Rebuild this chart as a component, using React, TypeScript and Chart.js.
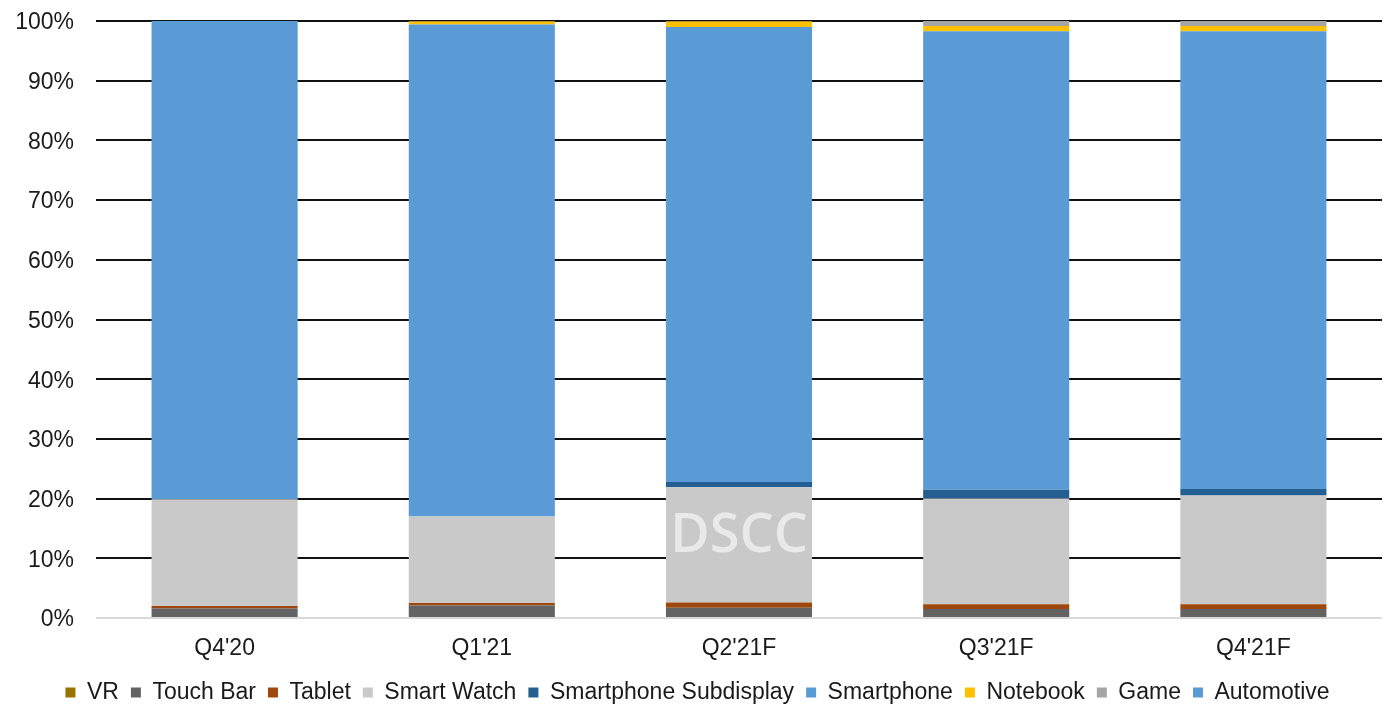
import React, { useEffect, useRef } from "react";
import { Chart, registerables } from "chart.js";

Chart.register(...registerables);

const categories = ["Q4'20", "Q1'21", "Q2'21F", "Q3'21F", "Q4'21F"];
const vr = [0, 0, 0, 0, 0];
const touchBar = [1.6, 2.1, 1.7, 1.5, 1.5];
const tablet = [0.4, 0.4, 0.9, 0.8, 0.8];
const smartWatch = [17.9, 14.5, 19.3, 17.7, 18.2];
const subdisplay = [0, 0, 0.9, 1.5, 1.1];
const smartphone = [80.1, 82.4, 76.2, 76.8, 76.7];
const notebook = [0, 0.5, 0.9, 0.85, 0.85];
const game = [0, 0.1, 0.1, 0.85, 0.85];
const automotive = [0, 0, 0, 0, 0];
const yTicks = [0, 10, 20, 30, 40, 50, 60, 70, 80, 90, 100];

const FONT = "'Liberation Sans', Arial, sans-serif";

const watermark = {
  id: "watermark",
  afterDatasetsDraw(chart: any) {
    const { ctx, scales } = chart;
    const x = scales.x.getPixelForValue(2);
    const y = scales.y.getPixelForValue(13.7);
    ctx.save();
    ctx.font = "600 54px 'Open Sans', sans-serif";
    ctx.fillStyle = "rgba(255,255,255,0.6)";
    ctx.textAlign = "center";
    ctx.textBaseline = "middle";
    ctx.fillText("DSCC", x, y);
    ctx.restore();
  },
};

export default function App() {
  const ref = useRef<HTMLCanvasElement>(null);
  useEffect(() => {
    if (!ref.current) return;
    const mk = (label: string, data: number[], color: string) => ({
      label,
      data,
      backgroundColor: color,
      borderWidth: 0,
      categoryPercentage: 1,
      barPercentage: 0.568,
    });
    const chart = new Chart(ref.current, {
      type: "bar",
      data: {
        labels: categories,
        datasets: [
          mk("VR", vr, "#997300"),
          mk("Touch Bar", touchBar, "#636363"),
          mk("Tablet", tablet, "#9E480E"),
          mk("Smart Watch", smartWatch, "#C9C9C9"),
          mk("Smartphone Subdisplay", subdisplay, "#255E91"),
          mk("Smartphone", smartphone, "#5B9BD5"),
          mk("Notebook", notebook, "#FFC000"),
          mk("Game", game, "#A5A5A5"),
          mk("Automotive", automotive, "#5B9BD5"),
        ],
      },
      options: {
        responsive: false,
        animation: false,
        layout: { padding: { top: 0, left: 13, right: 18, bottom: 2 } },
        plugins: {
          tooltip: { enabled: false },
          legend: {
            position: "bottom",
            labels: {
              boxWidth: 10,
              boxHeight: 10,
              padding: 12,
              color: "#1a1a1a",
              font: { family: FONT, size: 23 },
            },
          },
        },
        scales: {
          x: {
            stacked: true,
            grid: { display: false },
            border: { display: false },
            afterFit: (axis: any) => {
              axis.height = 51;
            },
            ticks: {
              color: "#1a1a1a",
              padding: 9,
              font: { family: FONT, size: 23 },
            },
          },
          y: {
            stacked: true,
            min: 0,
            max: 100,
            afterBuildTicks: (axis: any) => {
              axis.ticks = yTicks.map((v) => ({ value: v }));
            },
            afterFit: (axis: any) => {
              axis.width = 83;
              axis.paddingTop = 21;
              axis.paddingBottom = 14;
            },
            grid: {
              drawTicks: false,
              lineWidth: 2,
              color: (c: any) => (c.tick && c.tick.value === 0 ? "#D9D9D9" : "#111111"),
            },
            border: { display: false },
            ticks: {
              color: "#1a1a1a",
              padding: 22,
              labelOffset: 2,
              font: { family: FONT, size: 23 },
              callback: (v: any) => v + "%",
            },
          },
        },
      },
      plugins: [watermark],
    });
    return () => chart.destroy();
  }, []);
  return (
    <div style={{ position: "absolute", left: 0, top: 0, width: 1400, height: 716, background: "#fff" }}>
      <canvas ref={ref} width={1400} height={716} style={{ width: 1400, height: 716 }} />
    </div>
  );
}
